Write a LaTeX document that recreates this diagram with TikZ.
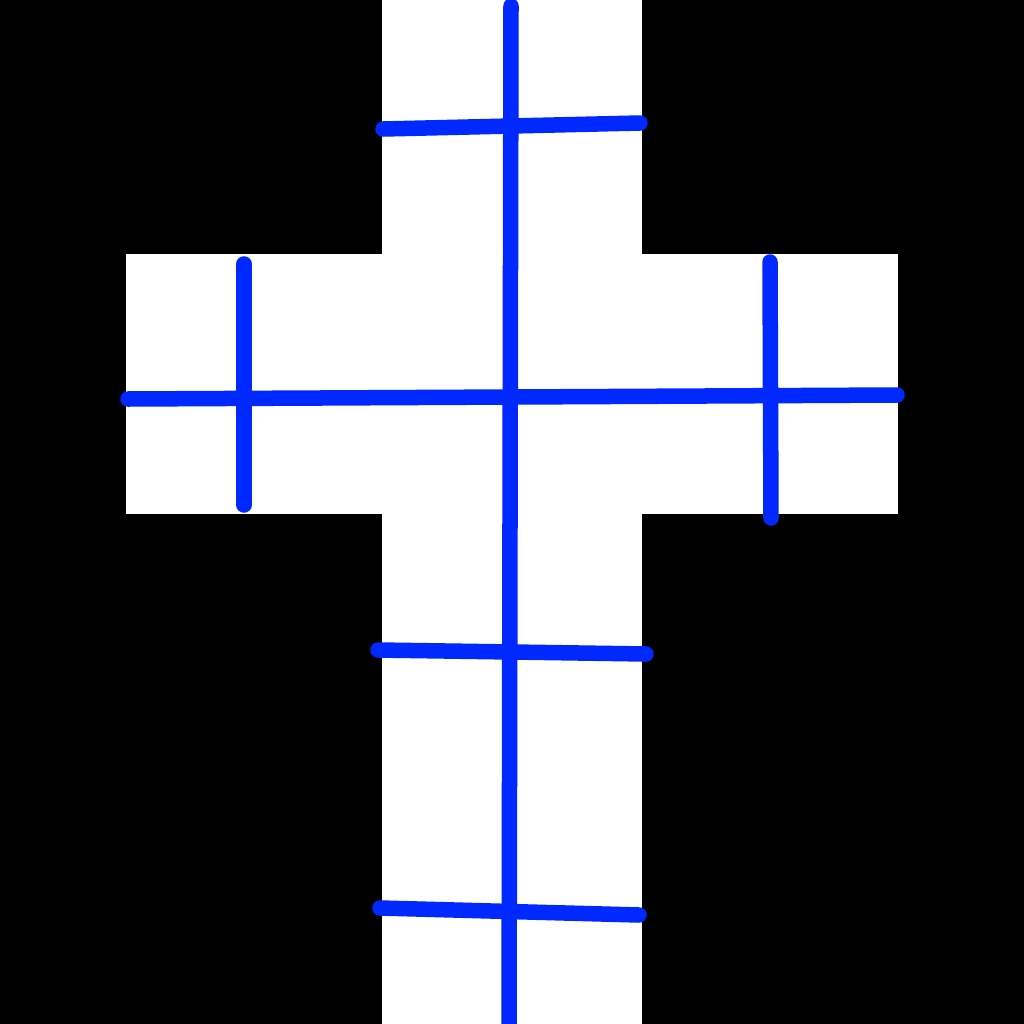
\documentclass[tikz,border=0pt]{standalone}
\definecolor{crossblue}{HTML}{0029FF}
\begin{document}
\begin{tikzpicture}[x=0.01cm,y=-0.01cm,
  bar/.style={draw=crossblue,line width=0.155cm,line cap=round}]
\fill[black] (0,0) rectangle (1024,1024);
\useasboundingbox (0,0) rectangle (1024,1024);
\fill[white] (382,0) rectangle (642,1024);
\fill[white] (126,254) rectangle (898,514);
\begin{scope}
\clip (0,0) rectangle (1024,1024);
\draw[bar] (511,6) -- (509,1040);
\draw[bar] (383,129) -- (640,123);
\draw[bar] (128,399) -- (897,395);
\draw[bar] (244,264) -- (244,505);
\draw[bar] (770,262) -- (771,518);
\draw[bar] (378,650) -- (646,654);
\draw[bar] (380,908) -- (639,915);
\end{scope}
\end{tikzpicture}
\end{document}
